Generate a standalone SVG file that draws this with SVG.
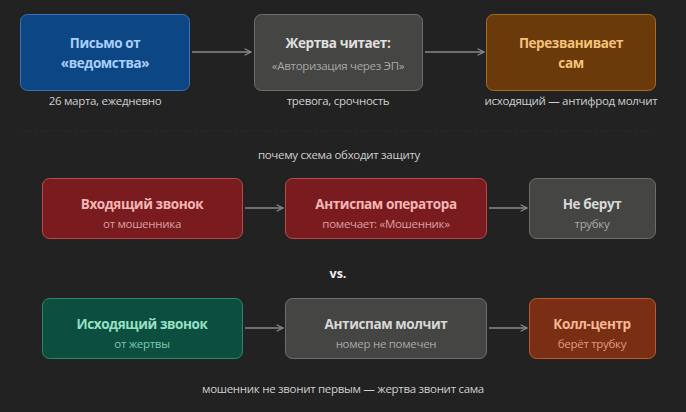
<svg xmlns="http://www.w3.org/2000/svg" width="686" height="412" viewBox="0 0 686 412">
<defs>
<marker id="ah" viewBox="0 0 10 10" refX="9" refY="5" markerWidth="8" markerHeight="8" orient="auto" markerUnits="userSpaceOnUse"><path d="M1,1 L9,5 L1,9" fill="none" stroke="#8a8a8a" stroke-width="1.5"/></marker>
</defs>
<style>
text{font-family:"Open Sans","Noto Sans",sans-serif;text-anchor:middle}
.t{font-size:13.5px;font-weight:bold;letter-spacing:-0.4px}
.s{font-size:11.5px;letter-spacing:-0.3px}
.c{font-size:11.5px;fill:#cfcfcf;letter-spacing:-0.3px}
.con line{stroke:#8a8a8a;stroke-width:1.5;marker-end:url(#ah)}
</style>
<rect width="686" height="412" fill="#222222"/>
<g id="n1"><rect x="20.5" y="14.5" width="169" height="76" rx="7" fill="#0c4684" stroke="#3a72b4"/><text class="t" x="105" y="48" fill="#a9d0fb">Письмо от</text><text class="t" x="105" y="68" fill="#a9d0fb">«ведомства»</text></g>
<g id="n2"><rect x="254.5" y="14.5" width="168" height="76" rx="7" fill="#454543" stroke="#6e6e6c"/><text class="t" x="338" y="48" fill="#e0e0e0">Жертва читает:</text><text class="s" x="338" y="70" fill="#a8a8a8">«Авторизация через ЭП»</text></g>
<g id="n3"><rect x="486.5" y="14.5" width="169" height="76" rx="7" fill="#6a3a0a" stroke="#a86c24"/><text class="t" x="571" y="48" fill="#f4c27a">Перезванивает</text><text class="t" x="571" y="68" fill="#f4c27a">сам</text></g>
<text class="c" x="105" y="105">26 марта, ежедневно</text>
<text class="c" x="338" y="105">тревога, срочность</text>
<text class="c" x="571" y="105">исходящий — антифрод молчит</text>
<line x1="20" y1="131" x2="655" y2="131" stroke="#2c2c2c" stroke-dasharray="2 3"/>
<text class="c" x="339" y="159">почему схема обходит защиту</text>
<g id="r2a"><rect x="42.5" y="178.5" width="200" height="60" rx="7" fill="#7a1c1f" stroke="#b84a4a"/><text class="t" x="142" y="209" fill="#f3b6b4">Входящий звонок</text><text class="s" x="142" y="228" fill="#dca0a0">от мошенника</text></g>
<g id="r2b"><rect x="285.5" y="178.5" width="201" height="60" rx="7" fill="#7a1c1f" stroke="#b84a4a"/><text class="t" x="386" y="209" fill="#f3b6b4">Антиспам оператора</text><text class="s" x="386" y="228" fill="#dca0a0">помечает: «Мошенник»</text></g>
<g id="r2c"><rect x="529.5" y="178.5" width="126" height="60" rx="7" fill="#454543" stroke="#6e6e6c"/><text class="t" x="592" y="209" fill="#d8d8d8">Не берут</text><text class="s" x="592" y="228" fill="#a8a8a8">трубку</text></g>
<text x="338" y="278" font-size="12.5" font-weight="bold" fill="#f0f0f0">vs.</text>
<g id="r3a"><rect x="42.5" y="298.5" width="200" height="60" rx="7" fill="#0c4f40" stroke="#2a8870"/><text class="t" x="142" y="329" fill="#96e0c4">Исходящий звонок</text><text class="s" x="142" y="348" fill="#7cc8ac">от жертвы</text></g>
<g id="r3b"><rect x="285.5" y="298.5" width="201" height="60" rx="7" fill="#454543" stroke="#6e6e6c"/><text class="t" x="386" y="329" fill="#d8d8d8">Антиспам молчит</text><text class="s" x="386" y="348" fill="#a8a8a8">номер не помечен</text></g>
<g id="r3c"><rect x="529.5" y="298.5" width="126" height="60" rx="7" fill="#7a2e14" stroke="#b85a32"/><text class="t" x="592" y="329" fill="#f6b896">Колл-центр</text><text class="s" x="592" y="348" fill="#e09c7c">берёт трубку</text></g>
<text class="c" x="343" y="393">мошенник не звонит первым — жертва звонит сама</text>
<g class="con">
<line x1="192" y1="52" x2="251" y2="52"/>
<line x1="425" y1="52" x2="484" y2="52"/>
<line x1="245" y1="208" x2="283" y2="208"/>
<line x1="489" y1="208" x2="527" y2="208"/>
<line x1="245" y1="328" x2="283" y2="328"/>
<line x1="489" y1="328" x2="527" y2="328"/>
</g>
</svg>
